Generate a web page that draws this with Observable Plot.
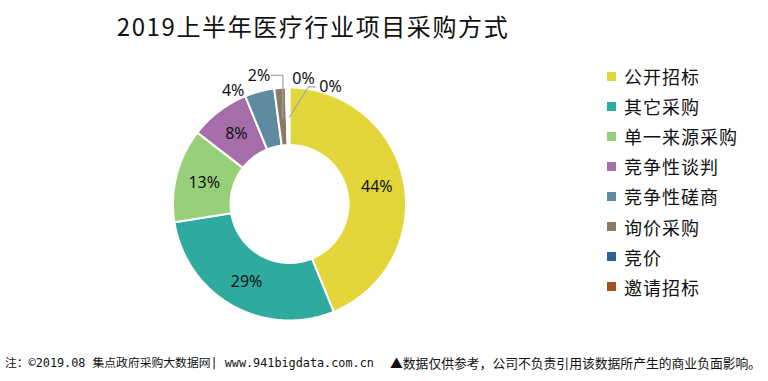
<!DOCTYPE html>
<html><head><meta charset="utf-8">
<script src="https://cdn.jsdelivr.net/npm/d3@7"></script>
<script src="https://cdn.jsdelivr.net/npm/@observablehq/plot@0.6"></script>
<style>
body{margin:0;background:#fff;}
#wrap{position:relative;width:768px;height:381px;overflow:hidden;font-family:"Noto Sans CJK SC","Noto Sans",sans-serif;color:#111;}
#chart{position:absolute;left:0;top:0;}
#title{position:absolute;left:0;top:8px;width:626px;text-align:center;font-size:24px;letter-spacing:1.6px;line-height:36px;white-space:nowrap;}
#legend{position:absolute;left:607px;top:61px;}
.li{height:30.1px;display:flex;align-items:center;font-size:18px;letter-spacing:1px;white-space:nowrap;}
.sw{width:9px;height:9px;margin-right:8px;flex-shrink:0;}
.foot{position:absolute;top:354px;line-height:18px;white-space:nowrap;}
#f1{left:5px;font-size:11.8px;font-family:"DejaVu Sans Mono","Noto Sans CJK SC",monospace;}
#f2{left:390px;font-size:12.8px;}
</style></head>
<body><div id="wrap">
<div id="title"></div>
<div id="chart"></div>
<div id="legend"></div>
<div class="foot" id="f1"></div>
<div class="foot" id="f2"></div>
</div>
<script>
const titleText = "2019上半年医疗行业项目采购方式";
const categories = ["公开招标","其它采购","单一来源采购","竞争性谈判","竞争性磋商","询价采购","竞价","邀请招标"];
const shares = [43.8, 28.7, 13.0, 8.3, 4.1, 1.6, 0.3, 0.2];
const labels = ["44%","29%","13%","8%","4%","2%","0%","0%"];
const colors = ["#E2D63A","#2EAA9F","#98D07A","#A56DAA","#5E8BA0","#8B7B62","#2A6396","#A5511C"];
const footLeft = "注：©2019.08 集点政府采购大数据网| www.941bigdata.com.cn";
const footRight = "▲数据仅供参考，公司不负责引用该数据所产生的商业负面影响。";

// layout (not data)
const R = 1, R0 = 0.506, RL = 0.76;
const outside = { // angle (deg), radius for labels placed outside the ring
  "竞争性磋商": [333.5, 1.094],
  "询价采购": [346.5, 1.139],
  "竞价": [6.1, 1.088],
  "邀请招标": [19.0, 1.067]
};

const total = d3.sum(shares);
let acc = 0;
const slices = categories.map((c, i) => {
  const a0 = acc / total * 2 * Math.PI; acc += shares[i];
  const a1 = acc / total * 2 * Math.PI;
  return {c, i, a0, a1, mid: (a0 + a1) / 2, label: labels[i]};
});
const ring = slices.flatMap(s => {
  const n = Math.max(2, Math.ceil((s.a1 - s.a0) / (Math.PI / 360)) + 1);
  return d3.range(n).map(k => {
    const t = s.a0 + (s.a1 - s.a0) * k / (n - 1);
    return {c: s.c, xo: R * Math.sin(t), yo: R * Math.cos(t), xi: R0 * Math.sin(t), yi: R0 * Math.cos(t)};
  });
});
const inside = slices.filter(s => !outside[s.c]).map(s => ({...s, x: RL * Math.sin(s.mid), y: RL * Math.cos(s.mid)}));
const outs = slices.filter(s => outside[s.c]).map(s => {
  const [deg, r] = outside[s.c]; const t = deg * Math.PI / 180;
  return {...s, x: r * Math.sin(t), y: r * Math.cos(t)};
});
const byC = Object.fromEntries(outs.map(d => [d.c, d]));
const sp = s => ({x: 0.75 * Math.sin(s.mid), y: 0.75 * Math.cos(s.mid)});
const leaders = [];
{ const l = byC["询价采购"], p = sp(l);
  leaders.push({k: 1, x: l.x + 0.105, y: l.y}, {k: 1, x: p.x, y: l.y}, {k: 1, x: p.x, y: p.y}); }
{ const l = byC["邀请招标"], p = sp(l);
  leaders.push({k: 2, x: p.x, y: p.y}, {k: 2, x: l.x - 0.19, y: l.y}, {k: 2, x: l.x - 0.13, y: l.y}); }

const cx = 289.5, cy = 204, rp = 116.5, W = 768, H = 381;
const chart = Plot.plot({
  width: W, height: H,
  marginLeft: cx - rp, marginRight: W - cx - rp,
  marginTop: cy - rp, marginBottom: H - cy - rp,
  x: {domain: [-1, 1], axis: null},
  y: {domain: [-1, 1], axis: null},
  color: {domain: categories, range: colors},
  style: {fontFamily: '"Noto Sans","Noto Sans CJK SC",sans-serif', background: "transparent", overflow: "visible"},
  marks: [
    Plot.area(ring, {x1: "xo", y1: "yo", x2: "xi", y2: "yi", z: "c", fill: "c", stroke: "white", strokeWidth: 2}),
    Plot.line(leaders, {x: "x", y: "y", z: "k", stroke: "#a6a6a6", strokeWidth: 1.2}),
    Plot.text(inside, {x: "x", y: "y", text: "label", fontSize: 16, fill: "#111"}),
    Plot.text(outs, {x: "x", y: "y", text: "label", fontSize: 16, fill: "#111"})
  ]
});
document.getElementById("chart").appendChild(chart);
document.getElementById("title").textContent = titleText;
const lg = d3.select("#legend");
categories.forEach((c, i) => {
  const row = lg.append("div").attr("class", "li");
  row.append("span").attr("class", "sw").style("background", colors[i]);
  row.append("span").text(c);
});
document.getElementById("f1").textContent = footLeft;
document.getElementById("f2").textContent = footRight;
</script>
</body></html>
